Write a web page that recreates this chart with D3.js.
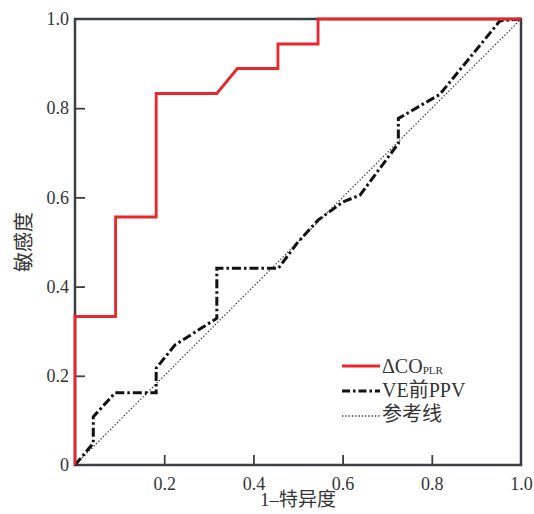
<!DOCTYPE html>
<html>
<head>
<meta charset="utf-8">
<script src="https://cdn.jsdelivr.net/npm/d3@7"></script>
<style>
  body { margin: 0; background: #fff; }
  svg text { font-family: "Liberation Serif", "Noto Sans CJK SC", serif; fill: #333; }
</style>
</head>
<body>
<script>
// ROC points (1-specificity, sensitivity)
var plrX = [0, 0, 0.091, 0.091, 0.182, 0.182, 0.318, 0.364, 0.455, 0.455, 0.545, 0.545, 1];
var plrY = [0, 0.333, 0.333, 0.556, 0.556, 0.833, 0.833, 0.889, 0.889, 0.944, 0.944, 1, 1];

var ppvX = [0, 0.041, 0.041, 0.09, 0.182, 0.182, 0.224, 0.318, 0.318, 0.456, 0.5, 0.545, 0.601, 0.639, 0.725, 0.725, 0.818, 0.953, 1];
var ppvY = [0, 0.049, 0.108, 0.162, 0.162, 0.217, 0.269, 0.329, 0.441, 0.441, 0.5, 0.549, 0.59, 0.605, 0.721, 0.777, 0.831, 0.996, 1];

var refX = [0, 1];
var refY = [0, 1];

var xTicks = [0.2, 0.4, 0.6, 0.8, 1.0];
var yTicks = [0, 0.2, 0.4, 0.6, 0.8, 1.0];

var width = 534, height = 514;
var margin = { left: 75, right: 13, top: 19, bottom: 49 };

var svg = d3.select('body').append('svg')
    .attr('width', width)
    .attr('height', height);

var x = d3.scaleLinear().domain([0, 1]).range([margin.left, width - margin.right]);
var y = d3.scaleLinear().domain([0, 1]).range([height - margin.bottom, margin.top]);

var axisColor = '#3b3e42';

// frame
svg.append('rect')
    .attr('x', x(0)).attr('y', y(1))
    .attr('width', x(1) - x(0)).attr('height', y(0) - y(1))
    .attr('fill', 'none')
    .attr('stroke', axisColor)
    .attr('stroke-width', 2.5);

// bottom axis, ticks pointing inward
var xAxis = svg.append('g')
    .attr('transform', 'translate(0,' + y(0) + ')')
    .call(d3.axisBottom(x).tickValues(xTicks).tickSize(-10).tickPadding(12)
        .tickFormat(d3.format('.1f')));
xAxis.select('.domain').remove();
xAxis.selectAll('line').attr('stroke', axisColor).attr('stroke-width', 1.8)
    .filter(function (d) { return d === 1; }).remove();
xAxis.selectAll('text').attr('font-size', 18).attr('fill', '#333');

// left axis
var yAxis = svg.append('g')
    .attr('transform', 'translate(' + x(0) + ',0)')
    .call(d3.axisLeft(y).tickValues(yTicks).tickSize(-10).tickPadding(6)
        .tickFormat(function (d) { return d === 0 ? '0' : d3.format('.1f')(d); }));
yAxis.select('.domain').remove();
yAxis.selectAll('line').attr('stroke', axisColor).attr('stroke-width', 1.8)
    .filter(function (d) { return d === 0 || d === 1; }).remove();
yAxis.selectAll('text').attr('font-size', 18).attr('fill', '#333');

var line = d3.line()
    .x(function (d) { return x(d[0]); })
    .y(function (d) { return y(d[1]); });

function pts(xs, ys) {
    return xs.map(function (v, i) { return [v, ys[i]]; });
}

// reference diagonal
svg.append('path')
    .attr('d', line(pts(refX, refY)))
    .attr('fill', 'none')
    .attr('stroke', '#333')
    .attr('stroke-width', 1.3)
    .attr('stroke-dasharray', '1.3,2');

// VE前PPV
svg.append('path')
    .attr('d', line(pts(ppvX, ppvY)))
    .attr('fill', 'none')
    .attr('stroke', '#111')
    .attr('stroke-width', 3)
    .attr('stroke-dasharray', '9,3,2.5,3');

// ΔCO_PLR
svg.append('path')
    .attr('d', line(pts(plrX, plrY)))
    .attr('fill', 'none')
    .attr('stroke', '#e8262b')
    .attr('stroke-width', 2.8);

// legend
var legend = svg.append('g');
var legendItems = [
    { stroke: '#e8262b', width: 2.8, dash: null, y: 366 },
    { stroke: '#111', width: 3, dash: '8,3,2.5,3', y: 391 },
    { stroke: '#333', width: 1.3, dash: '1.3,2', y: 416 }
];
legendItems.forEach(function (it) {
    legend.append('line')
        .attr('x1', 342).attr('x2', 380)
        .attr('y1', it.y).attr('y2', it.y)
        .attr('stroke', it.stroke)
        .attr('stroke-width', it.width)
        .attr('stroke-dasharray', it.dash);
});
var t1 = legend.append('text').attr('x', 382).attr('y', 373).attr('font-size', 20);
t1.append('tspan').text('ΔCO');
t1.append('tspan').text('PLR').attr('font-size', 11).attr('dy', 1);
legend.append('text').attr('x', 382).attr('y', 397).attr('font-size', 20).text('VE前PPV');
legend.append('text').attr('x', 382).attr('y', 421).attr('font-size', 20).text('参考线');

// axis titles
svg.append('text')
    .attr('x', x(0.5)).attr('y', 506)
    .attr('text-anchor', 'middle')
    .attr('font-size', 19)
    .text('1–特异度');

svg.append('text')
    .attr('transform', 'translate(31,' + y(0.5) + ') rotate(-90)')
    .attr('text-anchor', 'middle')
    .attr('font-size', 20)
    .text('敏感度');
</script>
</body>
</html>
